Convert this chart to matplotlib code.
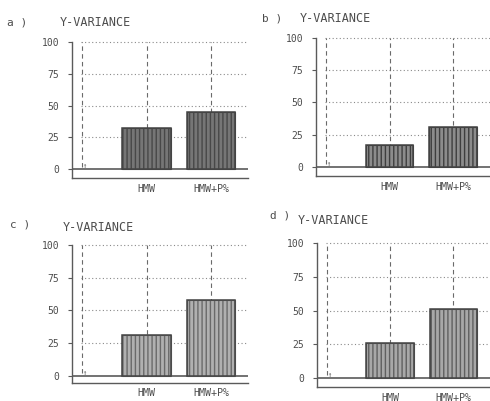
import matplotlib
matplotlib.use("Agg")
import matplotlib.pyplot as plt
import numpy as np

panel_labels = ["a )", "b )", "c )", "d )"]
title = "Y-VARIANCE"
categories = ["HMW", "HMW+P%"]
values_a = [32, 45]
values_b = [17, 31]
values_c = [31, 58]
values_d = [26, 51]
yticks = [0, 25, 50, 75, 100]

panels = [
    # (values, axes rect, ymin, bar face, bar edge, label pos, title pos)
    (values_a, [0.147, 0.556, 0.36, 0.3425], -7.0, "#767676", "#484848", (0.014, 0.944), (0.121, 0.944)),
    (values_b, [0.645, 0.561, 0.355, 0.3475], -7.0, "#8c8c8c", "#3e3e3e", (0.535, 0.955), (0.612, 0.955)),
    (values_c, [0.147, 0.0454, 0.36, 0.3466], -5.5, "#b0b0b0", "#6a6a6a", (0.020, 0.44), (0.128, 0.432)),
    (values_d, [0.647, 0.035, 0.353, 0.362], -6.5, "#a8a8a8", "#606060", (0.551, 0.462), (0.608, 0.449)),
]

txt = "#4d4d4d"
ln = "#5a5a5a"
mono = "DejaVu Sans Mono"

fig = plt.figure(figsize=(4.9, 4.01), dpi=100)
fig.patch.set_facecolor("white")

for (vals, rect, ymin, fc, ec, lpos, tpos), lab in zip(panels, panel_labels):
    ax = fig.add_axes(rect)
    x = np.arange(len(categories)) + 1
    ax.set_xlim(-0.155, 2.58)
    ax.set_ylim(ymin, 101)
    # dotted horizontal grid
    for yv in yticks[1:]:
        ax.plot([-0.02, 2.6], [yv, yv], ls=(0, (1, 2.2)), color="#8a8a8a", lw=0.8, zorder=1)
    # dashed vertical lines
    for xv in [0, 1, 2]:
        ax.plot([xv, xv], [2, 100], ls=(0, (4, 3)), color="#6a6a6a", lw=0.8, zorder=1)
    # zero line
    ax.plot([-0.155, 2.6], [0, 0], color=ln, lw=1.2, zorder=2)
    ax.text(0.0, 0, "\u2191", ha="left", va="bottom", fontsize=5, color=txt, family=mono, zorder=3)
    # bars
    ax.bar(x, vals, width=0.75, color=fc, edgecolor=ec, hatch="||||", linewidth=0.8, zorder=3)
    ax.bar(x, vals, width=0.75, color="none", edgecolor="#444444", linewidth=1.1, zorder=4)
    ax.set_xticks(x)
    ax.set_xticklabels(categories, family=mono, fontsize=7.2, color=txt)
    ax.tick_params(axis="x", length=0, pad=4)
    ax.set_yticks(yticks)
    ax.set_yticklabels([str(v) for v in yticks], family=mono, fontsize=7, color=txt)
    ax.tick_params(axis="y", length=3, width=0.8, color=ln, pad=6)
    for s in ["top", "right"]:
        ax.spines[s].set_visible(False)
    ax.spines["left"].set_color(ln)
    ax.spines["bottom"].set_color(ln)
    ax.spines["left"].set_linewidth(1.0)
    ax.spines["bottom"].set_linewidth(1.0)
    ax.spines["left"].set_bounds(ymin, 100)
    ax.patch.set_alpha(0)
    fig.text(lpos[0], lpos[1], lab, family=mono, fontsize=8, color=txt, ha="left", va="center")
    fig.text(tpos[0], tpos[1], title, family=mono, fontsize=8.5, color=txt, ha="left", va="center")

fig.savefig("out.png", dpi=100, facecolor="white")
